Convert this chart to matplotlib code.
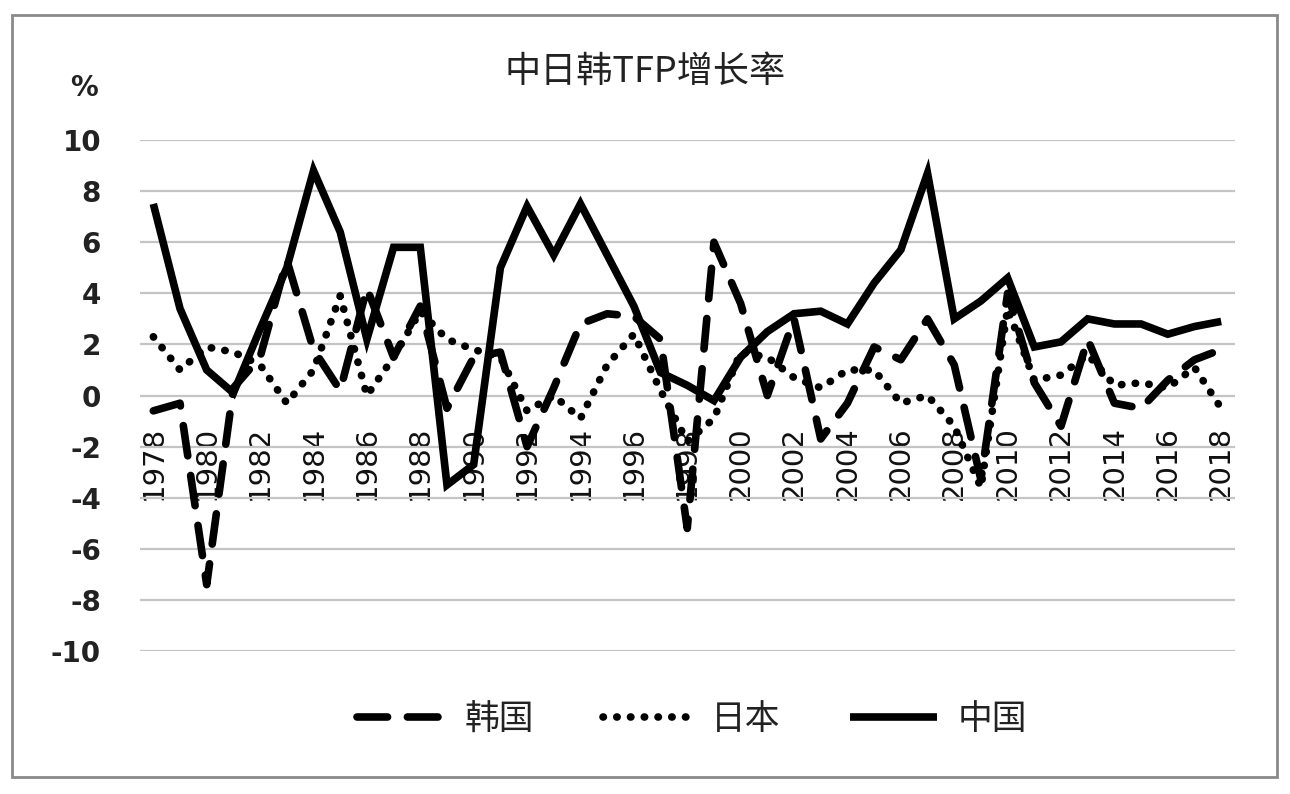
import matplotlib.pyplot as plt
from matplotlib.patches import Rectangle

plt.switch_backend('agg')
plt.rcParams['axes.unicode_minus'] = False

CJK = ['Noto Sans CJK SC', 'DejaVu Sans']

years = list(range(1978, 2019))

# 韩国
korea = [-0.6, -0.3, -7.4, 0.3, 1.5, 5.3, 1.8, 0.2, 4.2, 1.5,
         3.5, -0.5, 1.5, 1.7, -2.0, 0.3, 2.8, 3.2, 3.1, 2.2,
         -5.2, 6.0, 3.6, 0.0, 3.0, -1.7, -0.3, 1.9, 1.4, 3.0,
         1.2, -3.3, 4.0, 0.5, -1.2, 2.2, -0.3, -0.5, 0.6, 1.4,
         1.8]
# 日本
japan = [2.3, 1.0, 1.9, 1.7, 1.2, -0.3, 1.0, 3.9, 0.0, 1.5,
         3.3, 2.2, 1.8, 1.5, -0.6, 0.0, -0.9, 1.2, 2.4, 0.2,
         -1.8, -0.9, 1.7, 1.5, 0.7, 0.3, 1.0, 1.0, -0.3, 0.0,
         -1.2, -3.6, 3.4, 0.6, 0.8, 1.6, 0.4, 0.5, 0.3, 1.1,
         -0.5]
# 中国
china = [7.5, 3.4, 1.0, 0.1, 2.6, 5.0, 8.8, 6.4, 2.2, 5.8,
         5.8, -3.5, -2.7, 5.0, 7.4, 5.5, 7.5, 5.5, 3.5, 0.9,
         0.4, -0.2, 1.5, 2.5, 3.2, 3.3, 2.8, 4.4, 5.7, 8.7,
         3.0, 3.7, 4.6, 1.9, 2.1, 3.0, 2.8, 2.8, 2.4, 2.7,
         2.9]

yticks = list(range(-10, 11, 2))
xticks = list(range(1978, 2019, 2))

fig = plt.figure(figsize=(12.9, 7.94), dpi=100)
ax = fig.add_axes([0.1085, 0.180, 0.8485, 0.6437])

for s in ax.spines.values():
    s.set_visible(False)
ax.spines['bottom'].set_position(('data', 0))

lw = 5.5
ax.plot(years, korea, color='black', lw=lw, dashes=(4, 2.6),
        dash_capstyle='round', label='韩国', zorder=3)
ax.plot(years, japan, color='black', lw=lw, dashes=(0.05, 1.75),
        dash_capstyle='round', label='日本', zorder=3)
ax.plot(years, china, color='black', lw=lw, solid_joinstyle='miter',
        solid_capstyle='butt', label='中国', zorder=4)

ax.set_xlim(1977.5, 2018.5)
ax.set_ylim(-10, 10)
ax.set_yticks(yticks)
ax.set_xticks(xticks)
ax.set_xticklabels([str(y) for y in xticks], rotation=90, ha='center', va='top')
ax.grid(axis='y', color='#c4c4c4', lw=1.6)
ax.set_axisbelow(True)
ax.tick_params(axis='both', length=0)
ax.tick_params(axis='y', pad=28, labelsize=20)
ax.tick_params(axis='x', pad=22, labelsize=21)
for t in ax.get_yticklabels():
    t.set_fontweight('bold')
    t.set_color('#222222')
for t in ax.get_xticklabels():
    t.set_color('#111111')

fig.text(0.5, 1 - 72 / 794, '中日韩TFP增长率', family=CJK, fontsize=26,
         fontweight='medium', ha='center', va='center', color='#222222')
fig.text(84 / 1290, 1 - 88 / 794, '%', fontsize=20, fontweight='bold',
         ha='center', va='center', color='#222222')

leg = fig.legend(loc='center', bbox_to_anchor=(692 / 1290, 1 - 720 / 794), ncol=3,
                 frameon=False, handlelength=2.5, handletextpad=0.6,
                 columnspacing=2.0, prop={'family': CJK, 'size': 25})
for t in leg.get_texts():
    t.set_color('#222222')

fig.patches.append(Rectangle((12 / 1290, 1 - 777 / 794), 1265 / 1290, 762 / 794,
                             transform=fig.transFigure, fill=False,
                             edgecolor='#8a8a8a', lw=2.0))

fig.savefig('out.png', dpi=100)
